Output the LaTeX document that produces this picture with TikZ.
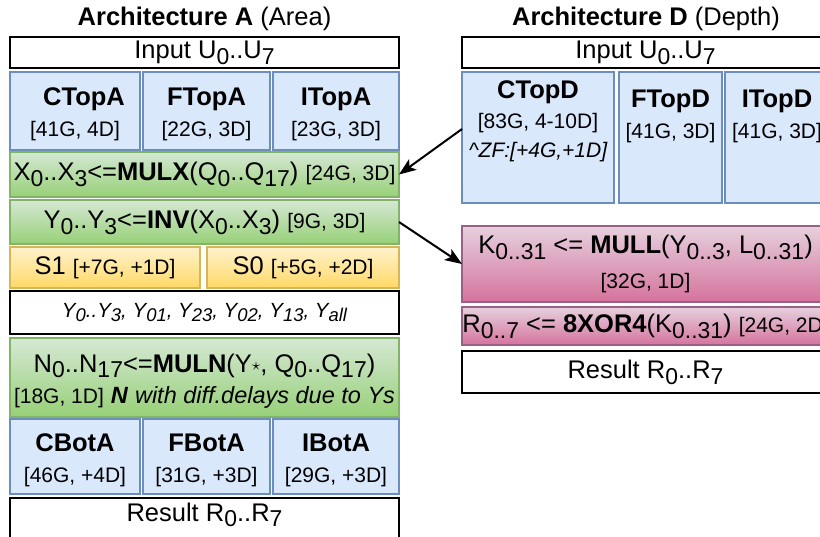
\documentclass[tikz,border=0pt]{standalone}
\usepackage{fontspec}
\setmainfont{Liberation Sans}
\usetikzlibrary{arrows.meta,calc}
\definecolor{bfill}{HTML}{DAE8FC}
\definecolor{bdraw}{HTML}{6C8EBF}
\definecolor{gtop}{HTML}{D5E8D4}
\definecolor{gbot}{HTML}{97D077}
\definecolor{gdraw}{HTML}{82B366}
\definecolor{ytop}{HTML}{FFF2CC}
\definecolor{ybot}{HTML}{FFD966}
\definecolor{ydraw}{HTML}{D6B656}
\definecolor{ptop}{HTML}{E6D0DE}
\definecolor{pbot}{HTML}{D5739D}
\definecolor{pdraw}{HTML}{996185}
\newcommand{\sbs}[1]{\raisebox{-0.23em}{\scalebox{0.9}{#1}}}
\newcommand{\fmain}{\fontsize{25.5}{31}\selectfont}
\newcommand{\fnote}{\fontsize{21}{26}\selectfont}
\newcommand{\fital}{\fontsize{23.5}{28}\selectfont\itshape}
\newcommand{\tstrut}{\rule{0pt}{25pt}}
\newcommand{\bx}[7]{\node[#1, minimum width={#4-#2}, minimum height={#5-#3}] (#6) at (#2,#3) {#7};}
\tikzset{
  box/.style={draw, line width=1.6pt, inner sep=0pt, outer sep=0pt, anchor=north west, align=center, font=\fmain},
  blk/.style={box, draw=black, line width=2pt, fill=white},
  blu/.style={box, draw=bdraw, fill=bfill},
  grn/.style={box, draw=gdraw, top color=gtop, bottom color=gbot},
  ylw/.style={box, draw=ydraw, top color=ytop, bottom color=ybot},
  pnk/.style={box, draw=pdraw, top color=ptop, bottom color=pbot},
  lbl/.style={inner sep=0pt, anchor=base, font=\fmain},
  arr/.style={line width=2pt, -{Stealth[length=17pt,width=13pt,inset=4pt]}}
}
\begin{document}
\begin{tikzpicture}[x=1pt,y=-1pt]
\useasboundingbox (0,0) rectangle (820,536);
\begin{scope}
\clip (0,0) rectangle (820,536);
% titles
\node[lbl] (titleA) at (204.5,25) {\textbf{Architecture A} (Area)};
\node[lbl] (titleD) at (646,25) {\textbf{Architecture D} (Depth)};
% Architecture A
\bx{blk}{10}{37}{399}{68}{inA}{Input U\sbs{0}..U\sbs{7}}
\bx{blu}{10}{72}{140}{150}{ctopA}{\tstrut\hspace*{18pt}\textbf{CTopA}\\{\fnote[41G, 4D]}}
\bx{blu}{143}{72}{270}{150}{ftopA}{\tstrut\textbf{FTopA}\\{\fnote[22G, 3D]}}
\bx{blu}{273}{72}{399}{150}{itopA}{\tstrut\textbf{ITopA}\\{\fnote[23G, 3D]}}
\bx{grn}{10}{152}{399}{197}{mulx}{X\sbs{0}..X\sbs{3}<=\textbf{MULX}(Q\sbs{0}..Q\sbs{17}) {\fnote[24G, 3D]}}
\bx{grn}{10}{200}{399}{244}{inv}{Y\sbs{0}..Y\sbs{3}<=\textbf{INV}(X\sbs{0}..X\sbs{3}) {\fnote[9G, 3D]}}
\bx{ylw}{10}{247}{200}{288}{s1}{S1 {\fnote[+7G, +1D]}}
\bx{ylw}{207}{247}{399}{288}{s0}{S0 {\fnote[+5G, +2D]}}
\bx{blk}{10}{291}{399}{334}{ybox}{\fontsize{20.5}{24}\selectfont\itshape Y\sbs{0}..Y\sbs{3}, Y\sbs{01}, Y\sbs{23}, Y\sbs{02}, Y\sbs{13}, Y\sbs{all}}
\bx{grn}{10}{338}{399}{417}{muln}{\tstrut N\sbs{0}..N\sbs{17}<=\textbf{MULN}(Y\raisebox{0.05em}{\scalebox{0.7}{$\star$}}, Q\sbs{0}..Q\sbs{17})\\{\fnote[18G, 1D]} {\fital\bfseries N} {\fital with diff.delays due to Ys}}
\bx{blu}{10}{419}{140}{494}{cbot}{\tstrut\textbf{CBotA}\\{\fnote[46G, +4D]}}
\bx{blu}{143}{419}{270}{494}{fbot}{\tstrut\textbf{FBotA}\\{\fnote[31G, +3D]}}
\bx{blu}{273}{419}{399}{494}{ibot}{\tstrut\textbf{IBotA}\\{\fnote[29G, +3D]}}
\bx{blk}{10}{498}{399}{570}{resA}{}
\node[lbl] (resAt) at (204.5,521) {Result R\sbs{0}..R\sbs{7}};
% Architecture D
\bx{blk}{462}{37}{829}{68}{inD}{Input U\sbs{0}..U\sbs{7}}
\bx{blu}{462}{72}{614}{203}{ctopD}{}
\bx{blu}{619}{72}{722}{203}{ftopD}{}
\bx{blu}{725}{72}{829}{203}{itopD}{}
\node[lbl] (ctopDa) at (538,98) {\textbf{CTopD}};
\node[lbl, font=\fnote] (ctopDb) at (538,128) {[83G, 4-10D]};
\node[lbl, font=\fnote\itshape] (ctopDc) at (538,157) {\textasciicircum ZF:[+4G,+1D]};
\node[lbl] (ftopDa) at (670.5,107) {\textbf{FTopD}};
\node[lbl, font=\fnote] (ftopDb) at (670.5,138) {[41G, 3D]};
\node[lbl] (itopDa) at (777,107) {\textbf{ITopD}};
\node[lbl, font=\fnote] (itopDb) at (777,138) {[41G, 3D]};
\bx{pnk}{462}{226}{829}{302}{mull}{K\sbs{0..31} <= \textbf{MULL}(Y\sbs{0..3}, L\sbs{0..31})\\[4pt]{\fnote[32G, 1D]}}
\bx{pnk}{462}{307}{829}{345}{xor}{R\sbs{0..7} <= \textbf{8XOR4}(K\sbs{0..31}) {\fnote[24G, 2D]}}
\bx{blk}{462}{351}{829}{393}{resD}{Result R\sbs{0}..R\sbs{7}}
% arrows
\draw[arr] ([yshift=8.5pt]ctopD.west) -- (mulx.east);
\draw[arr] (inv.east) -- (mull.west);
\end{scope}
\end{tikzpicture}
\end{document}
